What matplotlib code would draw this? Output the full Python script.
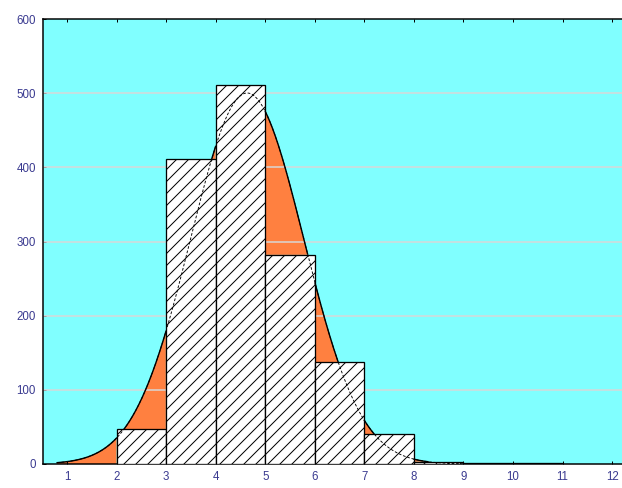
import numpy as np
import matplotlib
matplotlib.use("Agg")
import matplotlib.pyplot as plt

# histogram bins (left edges) and counts
bin_edges = [2, 3, 4, 5, 6, 7, 8, 9, 10, 11]
counts = [47, 411, 511, 282, 137, 40, 3, 1, 1]
x_ticks = [1, 2, 3, 4, 5, 6, 7, 8, 9, 10, 11, 12]
y_ticks = [0, 100, 200, 300, 400, 500, 600]

edges = np.array(bin_edges, dtype=float)
n = np.array(counts, dtype=float)
mids = (edges[:-1] + edges[1:]) / 2
width = edges[1] - edges[0]

# fitted normal curve (expected counts per bin), as the original software does
mu = np.sum(mids * n) / n.sum()
sigma = np.sqrt(np.sum((mids - mu) ** 2 * n) / n.sum())
xs = np.linspace(0.8, 11.0, 1200)
fit = n.sum() * width / (sigma * np.sqrt(2 * np.pi)) * np.exp(-0.5 * ((xs - mu) / sigma) ** 2)

# bar height under each curve point
idx = np.searchsorted(edges, xs, side="right") - 1
bar_h = np.where((idx >= 0) & (idx < len(n)), n[np.clip(idx, 0, len(n) - 1)], 0.0)
above = fit > bar_h

plt.rcParams["hatch.linewidth"] = 1.0
plt.rcParams["font.family"] = ["Liberation Sans", "DejaVu Sans"]

fig = plt.figure(figsize=(622 / 72, 488 / 72), dpi=72)
ax = fig.add_axes([43 / 622, 24 / 488, 1 - 43 / 622, (464 - 19) / 488])
ax.set_facecolor("#80ffff")

ax.fill_between(xs, bar_h, fit, where=above, color="#ff8040", lw=0, zorder=1)
ax.bar(edges[:-1], n, width=width, align="edge", color="white",
       edgecolor="black", hatch="//", lw=1.3, zorder=3)

ax.plot(xs, fit, color="black", lw=0.9, ls=(0, (3, 2)), zorder=4)
ax.plot(xs, np.where(above, fit, np.nan), color="black", lw=1.4, zorder=5)

for yv in y_ticks[1:-1]:
    ax.axhline(yv, color="#d8d8d8", lw=1.5, zorder=2)

ax.set_xlim(0.515, 12.2)
ax.set_ylim(0, 600)
ax.set_xticks(x_ticks)
ax.set_yticks(y_ticks)
ax.tick_params(axis="both", direction="in", length=3, width=1,
               labelsize=11.5, labelcolor="#3a3a90", pad=7)
ax.tick_params(axis="x", top=True)
for side in ["left", "bottom", "top"]:
    ax.spines[side].set_linewidth(1.5)
ax.spines["right"].set_visible(False)

fig.savefig("out.png", dpi=72)
